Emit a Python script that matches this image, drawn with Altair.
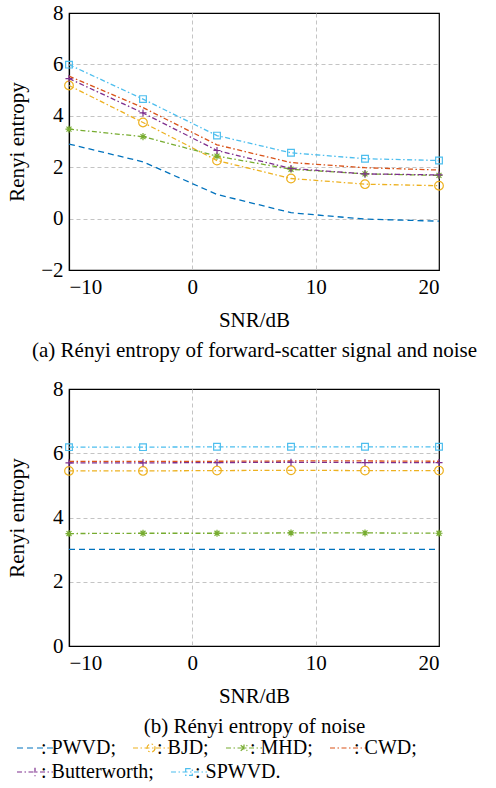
import altair as alt
import pandas as pd

FONT = "Liberation Serif"

methods = ["PWVD", "BJD", "MHD", "CWD", "Butterworth", "SPWVD"]
colors = ["#0072BD", "#EDB120", "#77AC30", "#D95319", "#7E2F8E", "#4DBEEE"]

snr = [-10, -4, 2, 8, 14, 20]

# (a) forward-scatter signal and noise
a_pwvd = [2.90, 2.21, 0.94, 0.23, -0.02, -0.10]
a_bjd = [5.18, 3.74, 2.26, 1.56, 1.34, 1.28]
a_mhd = [3.48, 3.19, 2.43, 1.92, 1.74, 1.68]
a_cwd = [5.54, 4.32, 2.87, 2.18, 1.98, 1.89]
a_butter = [5.45, 4.11, 2.65, 1.95, 1.74, 1.70]
a_spwvd = [5.99, 4.65, 3.23, 2.56, 2.33, 2.26]

# (b) noise only
b_pwvd = [3.01, 3.01, 3.01, 3.01, 3.01, 3.01]
b_bjd = [5.45, 5.45, 5.46, 5.47, 5.46, 5.46]
b_mhd = [3.50, 3.51, 3.51, 3.52, 3.52, 3.51]
b_cwd = [5.75, 5.75, 5.75, 5.76, 5.76, 5.75]
b_butter = [5.70, 5.70, 5.71, 5.72, 5.71, 5.71]
b_spwvd = [6.19, 6.19, 6.20, 6.20, 6.20, 6.20]

x_ticks = [-10, 0, 10, 20]
ya_ticks = [-2, 0, 2, 4, 6, 8]
yb_ticks = [0, 2, 4, 6, 8]

DASHED = [6, 4]
DASHDOT = [5, 2.5, 1.5, 2.5]
dashes = [DASHED, DASHDOT, DASHDOT, DASHDOT, DASHDOT, DASHDOT]

ASTERISK = "M-1,0H1M0,-1V1M-0.7,-0.7L0.7,0.7M-0.7,0.7L0.7,-0.7"
PLUS = "M-1,0H1M0,-1V1"
markers = [("BJD", "circle", 75), ("MHD", ASTERISK, 50), ("Butterworth", PLUS, 50), ("SPWVD", "square", 45)]

# legend symbols: line stub with marker in the middle (units of sqrt(size)/2)
LINE = "M-1,0H5"
legend_paths = [
    LINE,
    LINE + "M2.67,0A0.67,0.67,0,1,1,1.33,0A0.67,0.67,0,1,1,2.67,0",
    LINE + "M2,-0.6V0.6M1.45,-0.45L2.55,0.45M1.45,0.45L2.55,-0.45",
    LINE,
    LINE + "M2,-0.7V0.7",
    LINE + "M1.45,-0.55H2.55V0.55H1.45Z",
]
legend_rows = [[0, 1, 2, 3], [4, 5]]


def long(tables):
    rows = []
    for m, vals in zip(methods, tables):
        for xv, v in zip(snr, vals):
            rows.append({"method": m, "snr": xv, "val": v})
    return pd.DataFrame(rows)


color_scale = alt.Scale(domain=methods, range=colors)
dash_scale = alt.Scale(domain=methods, range=dashes)


def make_legend(y):
    return alt.Legend(
        title=None, orient="none", direction="horizontal", legendX=-56, legendY=y,
        columnPadding=13, symbolSize=144, symbolStrokeWidth=1.2,
        labelOffset=8, labelFont=FONT, labelFontSize=20, labelColor="black", labelLimit=0,
        labelExpr="datum.label == 'SPWVD' ? ': SPWVD.' : ': ' + datum.label + ';'",
    )


def edge_hidden(lo, hi):
    return {"condition": {"test": f"datum.value == {lo} || datum.value == {hi}", "value": 0}, "value": 1}


def panel(tables, ydom, yticks, caption, with_legend):
    df = long(tables)
    base = alt.Chart(df)
    x = alt.X("snr:Q", scale=alt.Scale(domain=[-10, 20], nice=False, zero=False),
              axis=alt.Axis(values=x_ticks, title=["SNR/dB", caption], titleLineHeight=30,
                            titlePadding=12, labelFont=FONT, titleFont=FONT,
                            gridOpacity=edge_hidden(-10, 20)))
    y = alt.Y("val:Q", scale=alt.Scale(domain=ydom, nice=False, zero=False),
              axis=alt.Axis(values=yticks, title="Renyi entropy", titleX=-42, titleY=128.5,
                            labelFont=FONT, titleFont=FONT,
                            gridOpacity=edge_hidden(ydom[0], ydom[1])))
    layers = [
        base.mark_line(strokeWidth=1.3).encode(
            x=x, y=y,
            color=alt.Color("method:N", scale=color_scale, legend=None),
            strokeDash=alt.StrokeDash("method:N", scale=dash_scale, legend=None),
            detail="method:N",
        )
    ]
    for m, shp, sz in markers:
        layers.append(
            base.mark_point(shape=shp, size=sz, filled=False, strokeWidth=1.2, opacity=1)
            .encode(x=x, y=y, color=alt.Color("method:N", scale=color_scale, legend=None))
            .transform_filter(alt.datum.method == m)
        )
    if with_legend:
        for r, (idx, ly) in enumerate(zip(legend_rows, [349, 373])):
            dom = [methods[i] for i in idx]
            lg = make_legend(ly)
            field = f"row{r}:N"
            layers.append(
                base.transform_filter("false")
                .transform_calculate(**{f"row{r}": "datum.method"})
                .mark_point(filled=False, strokeWidth=1.2, opacity=1)
                .encode(
                    x=x, y=y,
                    stroke=alt.Stroke(field, scale=alt.Scale(domain=dom, range=[colors[i] for i in idx]), legend=lg),
                    strokeDash=alt.StrokeDash(field, scale=alt.Scale(domain=dom, range=[dashes[i] for i in idx]), legend=lg),
                    shape=alt.Shape(field, scale=alt.Scale(domain=dom, range=[legend_paths[i] for i in idx]), legend=lg),
                )
            )
    out = alt.layer(*layers)
    if with_legend:
        out = out.resolve_scale(stroke="independent", strokeDash="independent", shape="independent")
    return out.properties(width=370, height=257)


top = panel([a_pwvd, a_bjd, a_mhd, a_cwd, a_butter, a_spwvd], [-2, 8], ya_ticks,
            "(a) Rényi entropy of forward-scatter signal and noise", False)
bottom = panel([b_pwvd, b_bjd, b_mhd, b_cwd, b_butter, b_spwvd], [0, 8], yb_ticks,
               "(b) Rényi entropy of noise", True)

chart = (
    alt.vconcat(top, bottom, spacing=16)
    .resolve_scale(strokeDash="independent")
    .properties(padding={"left": 5, "top": 1, "right": 5, "bottom": 0})
    .configure(font=FONT)
    .configure_view(stroke="black", strokeWidth=1.2)
    .configure_axis(
        domainColor="black", domainWidth=1.2, ticks=False,
        gridColor="#c4c4c4", gridDash=[4, 3], gridWidth=1,
        labelFont=FONT, labelFontSize=21, labelColor="black", labelPadding=6,
        titleFont=FONT, titleFontSize=21, titleFontWeight="normal", titleColor="black",
        titlePadding=2,
    )
)

chart.save("out.html", embed_options={"renderer": "svg", "actions": False})
